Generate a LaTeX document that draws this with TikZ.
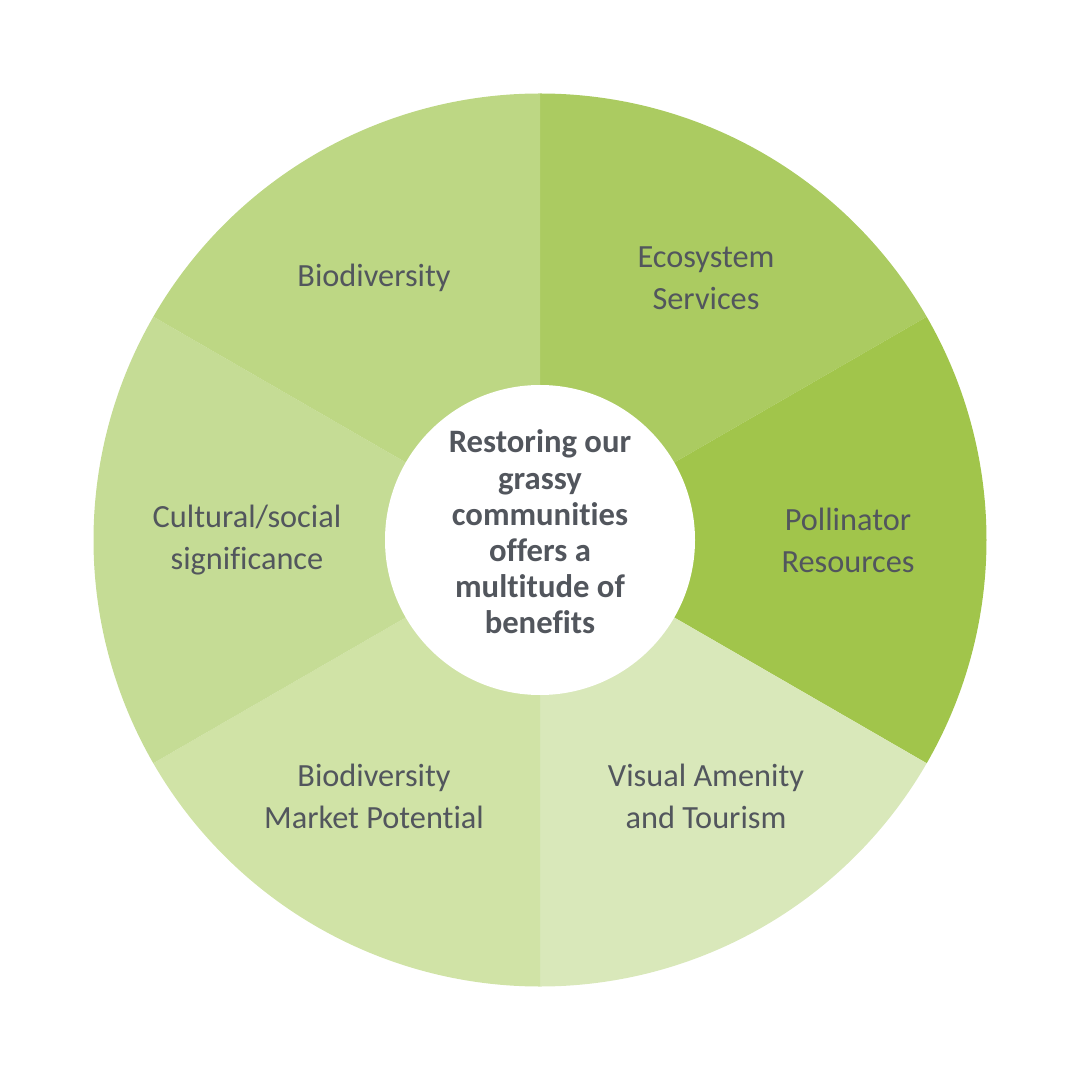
\documentclass[tikz,border=0pt]{standalone}
\usepackage{fontspec}
\setmainfont{Carlito}[Ligatures=NoCommon]
\definecolor{ecogreen}{HTML}{ABCB61}
\definecolor{pollgreen}{HTML}{A1C54B}
\definecolor{visgreen}{HTML}{D9E8BA}
\definecolor{marketgreen}{HTML}{D0E3A6}
\definecolor{culturegreen}{HTML}{C5DC95}
\definecolor{biogreen}{HTML}{BDD784}
\definecolor{labelgrey}{HTML}{52565D}

\begin{document}
\begin{tikzpicture}
        \tikzset{
            wedge/.style={line width=0pt},
            seglabel/.style={font=\fontsize{9.2}{12}\selectfont, text=labelgrey, align=center, inner sep=0pt},
            hub/.style={circle, fill=white, minimum size=3.1cm, inner sep=0pt},
            hubtext/.style={align=center, inner sep=0pt, text=labelgrey, font=\bfseries\fontsize{9.3}{10.3}\selectfont}
        }
        \useasboundingbox (-5.4,-5.4) rectangle (5.4,5.4);

        % Ring segments (start angle / end angle / colour)
        \foreach \a/\b/\c in {30/90/ecogreen, -30/30/pollgreen, -90/-30/visgreen, 210/270/marketgreen, 150/210/culturegreen, 90/150/biogreen}
            \fill[\c, wedge] (0,0) -- (\a:4.465) arc[start angle=\a, end angle=\b, radius=4.465] -- cycle;

        % Centre
        \node[hub] (centre) at (0,0) {};
        \node[hubtext] (centretext) at (0,0.08) {Restoring our\\grassy\\communities\\offers a\\multitude of\\benefits};

        % Segment labels
        \node[seglabel] (eco) at (1.66, 2.62) {Ecosystem\\Services};
        \node[seglabel] (poll) at (3.08, 0.0) {Pollinator\\Resources};
        \node[seglabel] (visual) at (1.66, -2.56) {Visual Amenity\\and Tourism};
        \node[seglabel] (market) at (-1.66, -2.56) {Biodiversity\\Market Potential};
        \node[seglabel] (culture) at (-2.93, 0.0) {Cultural/social\\significance};
        \node[seglabel] (bio) at (-1.66, 2.62) {Biodiversity};

    \end{tikzpicture}
\end{document}
